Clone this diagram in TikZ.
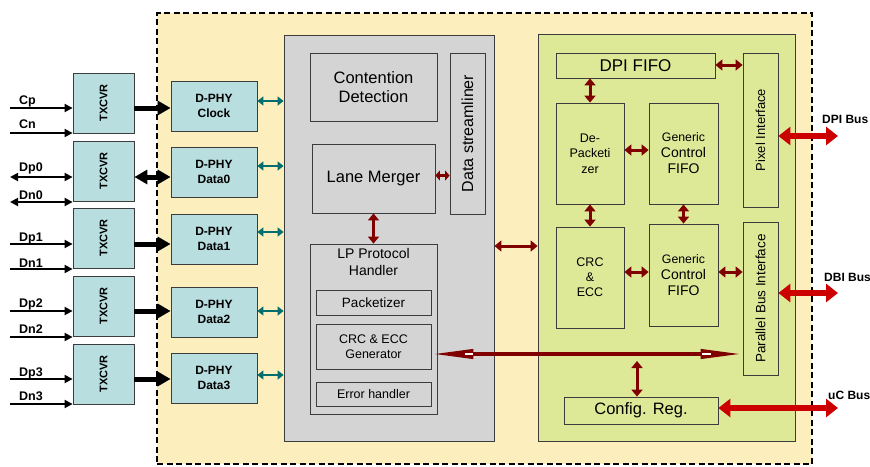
\documentclass[tikz,border=0pt]{standalone}
\usepackage{fontspec}
\setmainfont{Liberation Sans}
\usetikzlibrary{arrows.meta,calc}

\definecolor{chipyellow}{RGB}{253,239,189}
\definecolor{phyblue}{RGB}{184,222,224}
\definecolor{coregray}{RGB}{212,212,212}
\definecolor{appgreen}{RGB}{222,233,152}
\definecolor{boxline}{RGB}{60,60,60}
\definecolor{darkred}{RGB}{128,0,0}
\definecolor{busred}{RGB}{204,0,0}
\definecolor{linkteal}{RGB}{0,110,110}

\tikzset{
  sz/.style 2 args={minimum width=#1pt, minimum height=#2pt},
  blk/.style={draw=boxline, line width=0.8pt, inner sep=0pt, align=center},
  bluebox/.style={blk, fill=phyblue},
  graybox/.style={blk, fill=coregray},
  greenbox/.style={blk, fill=appgreen},
  fnt/.style 2 args={font=\fontsize{#1}{#2}\selectfont},
  bfnt/.style 2 args={font=\fontsize{#1}{#2}\selectfont\bfseries},
  sig/.style={draw=black, line width=1.8pt, -{Triangle[length=8pt,width=8pt]}},
  sigb/.style={draw=black, line width=1.8pt, {Triangle[length=8pt,width=8pt]}-{Triangle[length=8pt,width=8pt]}},
  fat/.style={draw=black, line width=5pt, -{Triangle[length=13pt,width=14pt]}},
  fatb/.style={draw=black, line width=5pt, {Triangle[length=13pt,width=14pt]}-{Triangle[length=13pt,width=14pt]}},
  tl/.style={draw=linkteal, line width=2pt, {Triangle[length=6pt,width=9pt]}-{Triangle[length=6pt,width=9pt]}},
  dr/.style={draw=darkred, line width=3pt, {Triangle[length=7pt,width=11pt]}-{Triangle[length=7pt,width=11pt]}},
  drshort/.style={draw=darkred, line width=3pt, {Triangle[length=4.5pt,width=10pt]}-{Triangle[length=4.5pt,width=10pt]}},
  rb/.style={draw=busred, line width=6pt, {Triangle[length=12pt,width=18pt]}-{Triangle[length=12pt,width=18pt]}},
  longbus/.style={draw=darkred, line width=4pt,
    {Triangle[length=42pt,width=9pt]}-{Triangle[length=42pt,width=9pt]}},
  notch/.style={draw=white, line width=1.8pt},
  siglbl/.style={bfnt={12.5}{14}, inner sep=0pt, anchor=base west},
}

\begin{document}
\begin{tikzpicture}[x=1pt,y=-1pt]
\useasboundingbox (0,0) rectangle (870,466);

% chip outline
\node[draw=black, dash pattern=on 6pt off 3.5pt, line width=1.8pt, fill=chipyellow, sz={655}{451}, inner sep=0pt] (chip) at (484.5,238.5) {};

% transceivers
\foreach \n/\y in {1/103,2/171,3/238,4/306,5/374}{
  \node[bluebox, sz={61}{60}, bfnt={11}{13}] (tx\n) at (103.5,\y) {\rotatebox{90}{TXCVR}};
}

% D-PHY lanes
\node[bluebox, sz={86}{50}, bfnt={12}{15}] (phc) at (214,106) {D-PHY\\Clock};
\node[bluebox, sz={86}{50}, bfnt={12}{15}] (ph0) at (214,172) {D-PHY\\Data0};
\node[bluebox, sz={86}{50}, bfnt={12}{15}] (ph1) at (214,239) {D-PHY\\Data1};
\node[bluebox, sz={86}{50}, bfnt={12}{15}] (ph2) at (214,312) {D-PHY\\Data2};
\node[bluebox, sz={86}{50}, bfnt={12}{15}] (ph3) at (214,378) {D-PHY\\Data3};

% protocol core
\node[graybox, sz={210}{406}] (core) at (389,238) {};
\node[graybox, sz={127}{68}, fnt={16.5}{19}] (cont) at (373.5,87) {Contention\\Detection};
\node[graybox, sz={35}{161}, fnt={16}{18}] (strm) at (467.5,133.5) {\rotatebox{90}{Data streamliner}};
\node[graybox, sz={123}{69}, fnt={16.5}{19}] (lane) at (373.5,178.5) {Lane Merger};
\node[graybox, sz={127}{170}] (lp) at (373.5,329) {};
\node[fnt={14}{17}, anchor=north, inner sep=0pt, align=center] (lpt) at ($(lp.north)+(0,5)$) {LP Protocol\\Handler};
\node[graybox, sz={115}{25}, fnt={13.5}{16}] (pkt) at (373.5,302.5) {Packetizer};
\node[graybox, sz={115}{45}, fnt={12.5}{15}] (crcg) at (373.5,346.5) {CRC \& ECC\\Generator};
\node[graybox, sz={115}{24}, fnt={12.5}{15}] (errh) at (373.5,394) {Error handler};

% application side
\node[greenbox, sz={257}{407}] (app) at (666.5,237.5) {};
\node[greenbox, sz={159}{25}, fnt={17}{20}] (dfifo) at (635.5,65.5) {DPI FIFO};
\node[greenbox, sz={35}{154}, fnt={13}{15}] (pix) at (760.5,130) {\rotatebox{90}{Pixel Interface}};
\node[greenbox, sz={68}{101}, fnt={12.5}{15.5}] (depk) at (590,153.5) {De-\\Packeti\\zer};
\node[greenbox, sz={69}{101}, fnt={14}{16}] (gcf1) at (683.5,153.5) {{\fontsize{12.3}{16}\selectfont Generic}\\Control\\FIFO};
\node[greenbox, sz={68}{101}, fnt={12.5}{15}] (crc) at (590,277.5) {CRC\\\&\\ECC};
\node[greenbox, sz={69}{102}, fnt={14}{16}] (gcf2) at (683.5,275) {{\fontsize{12.3}{16}\selectfont Generic}\\Control\\FIFO};
\node[greenbox, sz={35}{153}, fnt={13.5}{15}] (pbi) at (760.5,298.5) {\rotatebox{90}{Parallel Bus Interface}};
\node[greenbox, sz={154}{27}, fnt={16.5}{19}] (cfg) at (641,410.5) {Config. Reg.};

% external pins
\foreach \n/\p/\q in {1/108/133,2/177/202,3/244/269,4/311/337,5/379/404}{
  \coordinate (pp\n) at (10,\p);
  \coordinate (pn\n) at (10,\q);
}
\draw[sig] (pp1) -- (pp1 -| tx1.west);
\draw[sig] (pn1) -- (pn1 -| tx1.west);
\draw[sigb] (pp2) -- (pp2 -| tx2.west);
\draw[sigb] (pn2) -- (pn2 -| tx2.west);
\draw[sig] (pp3) -- (pp3 -| tx3.west);
\draw[sig] (pn3) -- (pn3 -| tx3.west);
\draw[sig] (pp4) -- (pp4 -| tx4.west);
\draw[sig] (pn4) -- (pn4 -| tx4.west);
\draw[sig] (pp5) -- (pp5 -| tx5.west);
\draw[sig] (pn5) -- (pn5 -| tx5.west);

\node[siglbl] (lcp) at ($(pp1)+(9,-4)$) {Cp};
\node[siglbl] (lcn) at ($(pn1)+(9,-5)$) {Cn};
\node[siglbl] (ldp0) at ($(pp2)+(9,-6)$) {Dp0};
\node[siglbl] (ldn0) at ($(pn2)+(9,-3)$) {Dn0};
\node[siglbl] (ldp1) at ($(pp3)+(9,-3)$) {Dp1};
\node[siglbl] (ldn1) at ($(pn3)+(9,-2)$) {Dn1};
\node[siglbl] (ldp2) at ($(pp4)+(9,-4)$) {Dp2};
\node[siglbl] (ldn2) at ($(pn4)+(9,-4)$) {Dn2};
\node[siglbl] (ldp3) at ($(pp5)+(9,-3)$) {Dp3};
\node[siglbl] (ldn3) at ($(pn5)+(9,-4)$) {Dn3};

% transceiver to lane links
\draw[fat] (tx1.east |- pp1) -- (phc.west |- pp1);
\draw[fatb] (tx2.east |- pp2) -- (ph0.west |- pp2);
\draw[fat] (tx3.east |- pp3) -- (ph1.west |- pp3);
\draw[fat] (tx4.east |- pp4) -- (ph2.west |- pp4);
\draw[fat] (tx5.east |- pp5) -- (ph3.west |- pp5);

% lanes to core
\draw[tl] ([yshift=5]phc.east) -- ([yshift=5]phc.east -| core.west);
\draw[tl] ([yshift=6]ph0.east) -- ([yshift=6]ph0.east -| core.west);
\draw[tl] ([yshift=7]ph1.east) -- ([yshift=7]ph1.east -| core.west);
\draw[tl] ([yshift=1]ph2.east) -- ([yshift=1]ph2.east -| core.west);
\draw[tl] ([yshift=3]ph3.east) -- ([yshift=3]ph3.east -| core.west);

% core internals
\draw[drshort] ([yshift=3]lane.east) -- ([yshift=3]lane.east -| strm.west);
\draw[dr] (lane.south) -- (lane.south |- lp.north);
\coordinate (corelink) at (0,246);
\draw[dr] (core.east |- corelink) -- (app.west |- corelink);

% application internals
\draw[dr] ([yshift=0.5]dfifo.east) -- ([yshift=0.5]dfifo.east -| pix.west);
\draw[dr] (depk.north |- dfifo.south) -- (depk.north);
\draw[dr] ([yshift=3.5]depk.east) -- ([yshift=3.5]gcf1.west);
\draw[dr] (depk.south) -- (crc.north);
\draw[dr] (gcf1.south) -- (gcf2.north);
\coordinate (crclink) at (0,272);
\draw[dr] (crc.east |- crclink) -- (gcf2.west |- crclink);
\draw[dr] (gcf2.east |- crclink) -- (pbi.west |- crclink);

% register bus, with the hollow slit at the base of each long head
\coordinate (regbus) at (637,354);
\draw[longbus] (crcg.east |- regbus) -- (pbi.west |- regbus);
\draw[notch] ($(crcg.east |- regbus)+(34,0)$) -- +(8,0);
\draw[notch] ($(pbi.west |- regbus)+(-41,0)$) -- +(9,0);
\draw[dr] ([yshift=-7]regbus) -- (regbus |- cfg.north);

% external buses
\coordinate (dpiend) at (838,136);
\coordinate (dbiend) at (838,293);
\coordinate (ucend) at (838,408);
\draw[rb] (pix.east |- dpiend) -- (dpiend);
\draw[rb] (pbi.east |- dbiend) -- (dbiend);
\draw[rb] (cfg.east |- ucend) -- (ucend);
\node[bfnt={12}{14}, anchor=west, inner sep=0pt] (ldpi) at (822,119) {DPI Bus};
\node[bfnt={12}{14}, anchor=west, inner sep=0pt] (ldbi) at (824,277) {DBI Bus};
\node[bfnt={12}{14}, anchor=west, inner sep=0pt] (luc) at (828,395) {uC Bus};
\end{tikzpicture}
\end{document}
